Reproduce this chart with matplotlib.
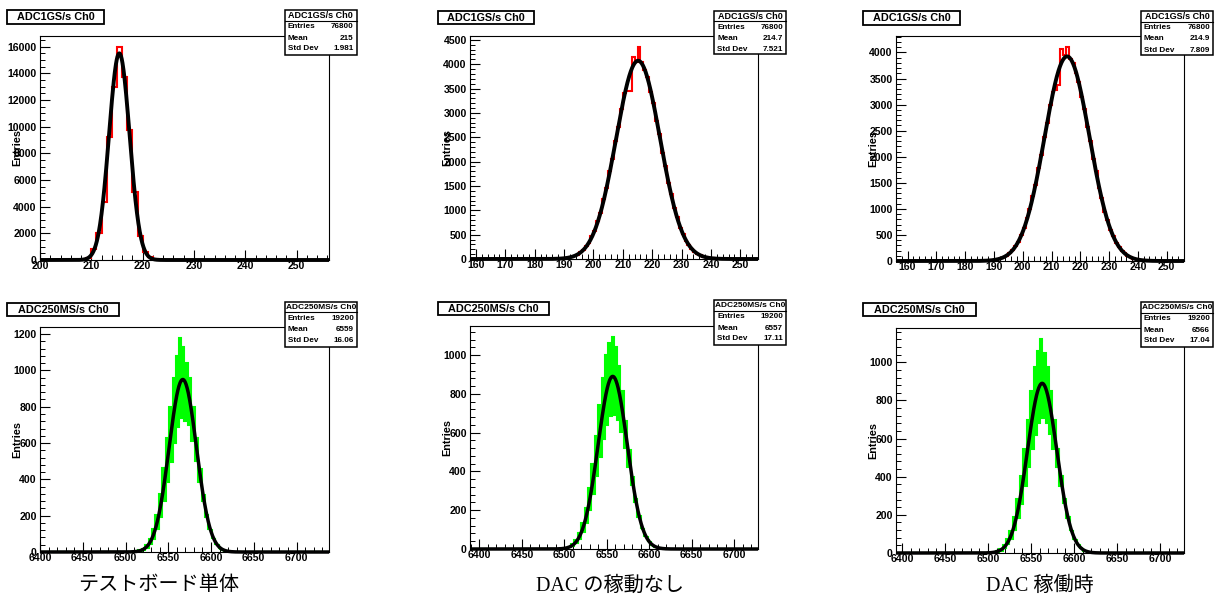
import numpy as np
import matplotlib
matplotlib.use("Agg")
import matplotlib.pyplot as plt
from matplotlib.patches import Rectangle
from matplotlib.lines import Line2D
from matplotlib.transforms import Affine2D
from matplotlib.ticker import MultipleLocator

# ---------------------------------------------------------------- data
captions = ["テストボード単体", "DAC の稼動なし", "DAC 稼働時"]

title_1g = "ADC1GS/s Ch0"
title_250 = "ADC250MS/s Ch0"

entries_1g = ["76800", "76800", "76800"]
mean_1g = ["215", "214.7", "214.9"]
std_1g = ["1.981", "7.521", "7.809"]

entries_250 = ["19200", "19200", "19200"]
mean_250 = ["6559", "6557", "6566"]
std_250 = ["16.06", "17.11", "17.04"]

# ADC 1 GS/s: counts per unit-wide bin, first bin lower edge given separately
h1g_first = [209, 188, 188]
h1g_board = [150, 800, 2050, 4340, 9250, 13000, 16000, 13740, 9780, 5070,
             1800, 630, 250, 50]
h1g_dac_off = [5, 10, 18, 30, 40, 65, 88, 135, 175, 260, 335, 470, 585, 790,
               950, 1230, 1450, 1800, 2050, 2430, 2710, 3080, 3400, 3440,
               3440, 4140, 4050, 4360, 4040, 3870, 3740, 3420, 3200, 2830,
               2560, 2180, 1910, 1560, 1330, 1040, 860, 640, 520, 370, 290,
               200, 150, 100, 72, 47, 33, 20, 14, 8, 4]
h1g_dac_on = [8, 14, 24, 36, 52, 78, 105, 158, 205, 290, 370, 505, 625, 820,
              990, 1250, 1460, 1780, 2030, 2380, 2640, 3000, 3250, 3280,
              3370, 4070, 3960, 4110, 3880, 3800, 3600, 3440, 3150, 2910,
              2570, 2310, 1960, 1720, 1400, 1200, 940, 780, 590, 480, 345,
              275, 190, 148, 98, 74, 47, 35, 21, 14, 8]

# Gaussian fits drawn over the 1 GS/s histograms
fit1g_const = [15500, 4070, 3924]
fit1g_mean = [215.45, 215.2, 215.4]
fit1g_sigma = [2.0, 7.5, 7.8]

x_range_1g = [(200, 256.3), (158, 256), (156, 256)]

# ADC 250 MS/s: 2-count bins; even / odd bins listed separately
# (the two code families populate differently)
h250_first = [6515, 6504, 6509]
h250_board_even = [9, 19, 38, 72, 125, 205, 318, 460, 630, 800, 960, 1080,
                   1180, 1130, 1040, 960, 800, 630, 455, 315, 205, 122, 70,
                   37, 18, 8]
h250_board_odd = [5, 11, 22, 42, 74, 124, 190, 280, 385, 495, 600, 690, 740,
                  720, 700, 610, 500, 385, 282, 195, 125, 76, 44, 23, 12, 6]
h250_dac_off_even = [12, 25, 46, 80, 135, 210, 312, 440, 585, 740, 880, 1000,
                     1060, 1095, 1040, 945, 815, 660, 510, 372, 258, 168,
                     105, 61, 34, 18, 9]
h250_dac_off_odd = [8, 15, 30, 52, 86, 134, 200, 282, 375, 472, 565, 640,
                    685, 690, 665, 605, 520, 425, 328, 240, 165, 108, 67, 39,
                    22, 12, 5]
h250_dac_on_even = [11, 21, 40, 71, 118, 190, 284, 405, 548, 700, 850, 975,
                    1060, 1124, 1050, 975, 850, 700, 545, 405, 284, 189, 118,
                    70, 40, 21, 11]
h250_dac_on_odd = [7, 13, 26, 45, 76, 120, 182, 258, 350, 450, 545, 620, 680,
                   708, 680, 625, 545, 450, 352, 260, 182, 121, 76, 46, 26,
                   13, 7]

fit250_const = [950, 890, 890]
fit250_mean = [6567, 6557, 6563]
fit250_sigma = [16.0, 17.1, 17.0]

x_range_250 = [(6400, 6738), (6389, 6728), (6393, 6728)]

# ---------------------------------------------------------------- figure
W, H = 1219, 610
plt.rcParams["font.family"] = ["Liberation Sans", "DejaVu Sans"]
plt.rcParams["font.weight"] = "bold"
fig = plt.figure(figsize=(W / 100, H / 100), dpi=100)
fig.patch.set_facecolor("white")

# pixel coordinates, origin at the top-left corner
pix = Affine2D().scale(1.0 / W, -1.0 / H).translate(0, 1) + fig.transFigure


def add_axes_px(x0, y0, x1, y1):
    return fig.add_axes([x0 / W, 1 - y1 / H, (x1 - x0) / W, (y1 - y0) / H])


def title_box(x0, y0, x1, y1, text):
    fig.add_artist(Rectangle((x0, y0), x1 - x0, y1 - y0, transform=pix,
                             fc="white", ec="black", lw=1.3, zorder=10))
    fig.text((x0 + x1) / 2, (y0 + y1) / 2 + 0.5, text, transform=pix,
             ha="center", va="center", fontsize=7.8, fontweight="bold",
             zorder=11)


def stats_box(x0, y0, x1, y1, title, rows, title_fs):
    fig.add_artist(Rectangle((x0, y0), x1 - x0, y1 - y0, transform=pix,
                             fc="white", ec="black", lw=1.1, zorder=10))
    fig.add_artist(Line2D([x0, x1], [y0 + 10.5, y0 + 10.5], transform=pix,
                          color="black", lw=0.8, zorder=11))
    fig.text((x0 + x1) / 2, y0 + 5.6, title, transform=pix, ha="center",
             va="center", fontsize=title_fs, fontweight="bold", zorder=12)
    for (label, value), dy in zip(rows, (16.5, 28.0, 39.0)):
        fig.text(x0 + 3, y0 + dy, label, transform=pix, ha="left",
                 va="center", fontsize=5.9, fontweight="bold", zorder=12)
        fig.text(x1 - 3, y0 + dy, value, transform=pix, ha="right",
                 va="center", fontsize=5.9, fontweight="bold", zorder=12)


def style_axes(ax, xmaj, xmin, ymaj, ymin):
    ax.xaxis.set_major_locator(MultipleLocator(xmaj))
    ax.xaxis.set_minor_locator(MultipleLocator(xmin))
    ax.yaxis.set_major_locator(MultipleLocator(ymaj))
    ax.yaxis.set_minor_locator(MultipleLocator(ymin))
    ax.tick_params(which="major", direction="in", length=7, width=0.8,
                   labelsize=7.6, top=False, right=False)
    ax.tick_params(which="minor", direction="in", length=3.5, width=0.7,
                   top=False, right=False)
    ax.tick_params(axis="x", which="major", pad=0.8)
    ax.tick_params(axis="y", which="major", pad=2.3)
    for s in ax.spines.values():
        s.set_linewidth(0.8)
    ax.set_facecolor("white")


def ylabel_px(ax_box):
    x0, y0, x1, y1 = ax_box
    fig.text(x0 - 23, (y0 + y1) / 2, "Entries", transform=pix, rotation=90,
             ha="center", va="center", fontsize=7.8, fontweight="bold",
             zorder=5)


top_boxes = [(40, 36, 329, 260), (470, 36, 758, 259), (896, 36, 1184, 261)]
bot_boxes = [(40, 327, 329, 552), (470, 326, 758, 549), (896, 328, 1184, 553)]
top_titles = [(7.3, 10, 104.3, 24), (437.7, 10.7, 534, 24),
              (863.3, 10.7, 960, 25)]
bot_titles = [(7.3, 302.7, 119, 315.7), (437.7, 301.7, 549, 315),
              (863.3, 302.7, 975.7, 316)]
top_stats = [(285, 10, 356.7, 55), (714, 10.7, 786, 54.3),
             (1141, 11, 1213, 55)]
bot_stats = [(285, 301.7, 357, 346.7), (714, 300, 786, 345),
             (1141, 302, 1213, 347)]

h1g_sets = [h1g_board, h1g_dac_off, h1g_dac_on]
y_major_1g = [2000, 500, 500]
y_minor_1g = [500, 100, 100]

for i in range(3):
    ax = add_axes_px(*top_boxes[i])
    counts = np.array(h1g_sets[i], dtype=float)
    lo, hi = x_range_1g[i]
    edges = h1g_first[i] + np.arange(len(counts) + 1)
    # histogram outline over the full axis range
    full_edges = np.concatenate(([lo], edges, [hi]))
    full_counts = np.concatenate(([0.0], counts, [0.0]))
    ax.stairs(full_counts, full_edges, color="#ff0000", lw=1.5,
              baseline=None, zorder=2)
    xs = np.linspace(lo, hi, 800)
    ys = fit1g_const[i] * np.exp(-0.5 * ((xs - fit1g_mean[i]) / fit1g_sigma[i]) ** 2)
    ax.plot(xs, ys, color="black", lw=2.8, zorder=3, clip_on=False,
            solid_capstyle="butt")
    ax.set_xlim(lo, hi)
    ax.set_ylim(0, 1.05 * counts.max())
    style_axes(ax, 10, 2, y_major_1g[i], y_minor_1g[i])
    ylabel_px(top_boxes[i])
    title_box(*top_titles[i], title_1g)
    stats_box(*top_stats[i], title_1g,
              [("Entries", entries_1g[i]), ("Mean", mean_1g[i]),
               ("Std Dev", std_1g[i])], 6.5)

h250_sets = [(h250_board_even, h250_board_odd),
             (h250_dac_off_even, h250_dac_off_odd),
             (h250_dac_on_even, h250_dac_on_odd)]

for i in range(3):
    ax = add_axes_px(*bot_boxes[i])
    even, odd = h250_sets[i]
    counts = np.empty(2 * len(even))
    counts[0::2] = even
    counts[1::2] = odd
    lo, hi = x_range_250[i]
    edges = h250_first[i] + 2 * np.arange(len(counts) + 1)
    full_edges = np.concatenate(([lo], edges, [hi]))
    full_counts = np.concatenate(([0.0], counts, [0.0]))
    ax.stairs(full_counts, full_edges, color="#00ff00", lw=1.5,
              baseline=None, zorder=2)
    xs = np.linspace(lo, hi, 800)
    ys = fit250_const[i] * np.exp(-0.5 * ((xs - fit250_mean[i]) / fit250_sigma[i]) ** 2)
    ax.plot(xs, ys, color="black", lw=2.5, zorder=3, clip_on=False,
            solid_capstyle="butt")
    ax.set_xlim(lo, hi)
    ax.set_ylim(0, 1.05 * counts.max())
    style_axes(ax, 50, 10, 200, 40)
    ylabel_px(bot_boxes[i])
    title_box(*bot_titles[i], title_250)
    stats_box(*bot_stats[i], title_250,
              [("Entries", entries_250[i]), ("Mean", mean_250[i]),
               ("Std Dev", std_250[i])], 6.0)

caption_x = [159, 610, 1040]
for cx, text in zip(caption_x, captions):
    fig.text(cx, 586, text, transform=pix, ha="center", va="center",
             fontsize=14.5, fontweight="normal",
             family=["Liberation Serif", "Noto Sans CJK JP"])

fig.savefig("out.png", dpi=100, facecolor="white")
